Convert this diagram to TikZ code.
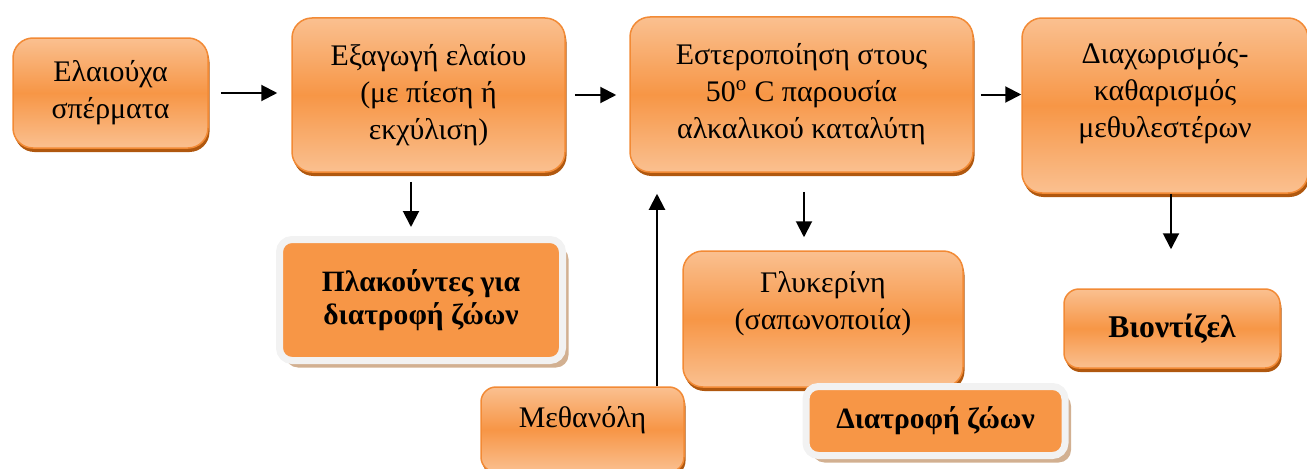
\documentclass[tikz,border=0pt]{standalone}
\usepackage{fontspec}
\setmainfont{Liberation Serif}
\usepackage{tikz}
\usetikzlibrary{positioning,arrows.meta,shadows}
\definecolor{boxorange}{HTML}{F79646}
\definecolor{boxlight}{HTML}{FAC090}
\definecolor{boxedge}{HTML}{F28A35}
\definecolor{boxshadow}{HTML}{B0580F}
\definecolor{rimgrey}{HTML}{F2F2F2}
\definecolor{hatchtan}{HTML}{D2B091}

\begin{document}
\begin{tikzpicture}[
  every node/.style={font=\fontsize{17}{21}\selectfont},
  box/.style={draw=boxedge,line width=0.03cm,rounded corners=0.4cm,align=center,
              top color=boxlight,bottom color=boxlight,middle color=boxorange,
              general shadow={fill=boxshadow,shadow xshift=0.03cm,shadow yshift=-0.08cm}},
  prod/.style={draw=rimgrey,line width=0.14cm,rounded corners=0.25cm,align=center,
               fill=boxorange,font=\fontsize{16.8}{18.8}\selectfont\bfseries,
               general shadow={fill=hatchtan,shadow xshift=0.12cm,shadow yshift=-0.14cm}},
  edge/.style={draw=black,line width=0.04cm,-{Triangle[length=0.32cm,width=0.32cm]}}
]
\useasboundingbox (0,0) rectangle (26.14,-9.38);
\clip (0,0) rectangle (26.14,-9.38);

% process chain
\node[box,minimum width=3.90cm,minimum height=2.20cm] (seeds)   at (2.21,-1.86) {Ελαιούχα\\σπέρματα};
\node[box,minimum width=5.46cm,minimum height=3.08cm] (extract) at (8.57,-1.90) {Εξαγωγή ελαίου\\(με πίεση ή\\εκχύλιση)};
\node[box,minimum width=6.86cm,minimum height=3.10cm] (ester)   at (16.03,-1.89) {Εστεροποίηση στους\\50\textsuperscript{o} C παρουσία\\αλκαλικού καταλύτη};
\node[box,minimum width=5.72cm,minimum height=3.50cm,text depth=0.61cm] (sep) at (23.30,-2.11) {Διαχωρισμός-\\καθαρισμός\\μεθυλεστέρων};

% inputs and by-products
\node[box,minimum width=5.60cm,minimum height=2.72cm,text depth=0.75cm] (glyc) at (16.46,-6.38) {Γλυκερίνη\\(σαπωνοποιία)};
\node[box,minimum width=4.06cm,minimum height=1.70cm,rounded corners=0.3cm,text depth=0.52cm] (meth) at (11.65,-8.59) {Μεθανόλη};
\node[box,minimum width=4.32cm,minimum height=1.58cm,rounded corners=0.3cm,font=\fontsize{18}{19}\selectfont\bfseries] (biod) at (23.44,-6.57) {Βιοντίζελ};
\node[prod,minimum width=5.66cm,minimum height=2.42cm] (cake) at (8.42,-6.00) {Πλακούντες για\\διατροφή ζώων};
\node[prod,minimum width=5.18cm,minimum height=1.38cm] (feed) at (18.71,-8.42) {Διατροφή ζώων};

\draw[edge,shorten <=0.24cm,shorten >=0.28cm] (seeds.east) -- (seeds.east -| extract.west);
\draw[edge,shorten <=0.18cm,shorten >=0.26cm] (extract.east) -- (extract.east -| ester.west);
\draw[edge,shorten <=0.14cm] (ester.east) -- (ester.east -| sep.west);
\draw[edge,shorten <=0.18cm,shorten >=0.18cm] ([xshift=-0.35cm]extract.south) -- ([xshift=-0.35cm]extract.south |- cake.north);
\draw[edge,shorten <=0.38cm,shorten >=0.26cm] ([xshift=0.05cm]ester.south) -- ([xshift=0.05cm]ester.south |- glyc.north);
\draw[edge,shorten >=0.78cm] ([xshift=0.12cm]sep.south) -- ([xshift=0.12cm]sep.south |- biod.north);
\draw[edge,shorten >=0.42cm] ([xshift=1.49cm]meth.north) -- ([xshift=1.49cm]meth.north |- ester.south);
\end{tikzpicture}
\end{document}
